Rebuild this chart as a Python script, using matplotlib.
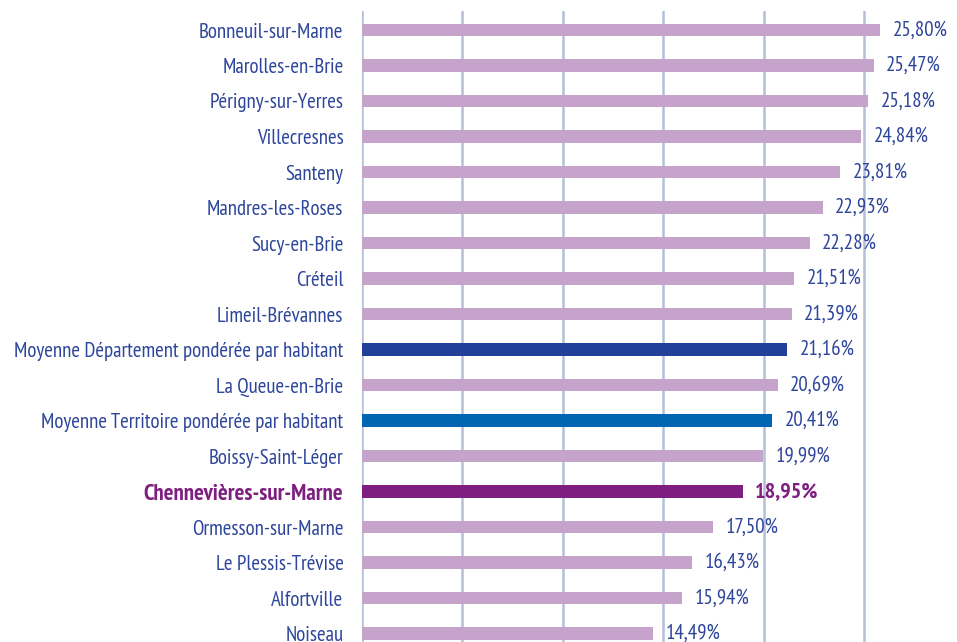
import matplotlib
matplotlib.use("Agg")
import matplotlib.pyplot as plt

categories = [
    "Bonneuil-sur-Marne", "Marolles-en-Brie", "Périgny-sur-Yerres", "Villecresnes",
    "Santeny", "Mandres-les-Roses", "Sucy-en-Brie", "Créteil", "Limeil-Brévannes",
    "Moyenne Département pondérée par habitant", "La Queue-en-Brie",
    "Moyenne Territoire pondérée par habitant", "Boissy-Saint-Léger",
    "Chennevières-sur-Marne", "Ormesson-sur-Marne", "Le Plessis-Trévise",
    "Alfortville", "Noiseau",
]
values = [25.80, 25.47, 25.18, 24.84, 23.81, 22.93, 22.28, 21.51, 21.39,
          21.16, 20.69, 20.41, 19.99, 18.95, 17.50, 16.43, 15.94, 14.49]
grid_ticks = [0, 5, 10, 15, 20, 25]

LIGHT = "#C6A3CA"
DEPT = "#22409A"
TERR = "#0066B3"
CHEN = "#7E1E80"
TXT = "#2D459B"
GRID = "#B4BED8"

special = {
    "Moyenne Département pondérée par habitant": DEPT,
    "Moyenne Territoire pondérée par habitant": TERR,
    "Chennevières-sur-Marne": CHEN,
}

plt.rcParams["font.family"] = ["PT Sans Narrow", "DejaVu Sans"]

W, H = 957, 642
fig = plt.figure(figsize=(W / 100, H / 100), dpi=100)
x0 = 361.5
ax = fig.add_axes([x0 / W, 0.0, 1 - x0 / W, 1 - 11 / H])

pxper = 20.11
xmax = (W - x0) / pxper
ax.set_xlim(0, xmax)
row0, step = 30, 35.5
ax.set_ylim((H - row0) / step, -(row0 - 11) / step)

ypos = list(range(len(categories)))
colors = [special.get(c, LIGHT) for c in categories]
ax.barh(ypos, values, height=0.34, color=colors, zorder=3)

for v in grid_ticks:
    ax.axvline(v, color=GRID, lw=1.8, zorder=1)

FS = 15
for y, v, c in zip(ypos, values, categories):
    bold = c == "Chennevières-sur-Marne"
    ax.annotate(f"{v:.2f}%".replace(".", ","), (v, y), xytext=(9, 0),
                textcoords="offset points", va="center", ha="left",
                fontsize=FS + 1 if bold else FS, color=CHEN if bold else TXT,
                fontweight="bold" if bold else "normal", zorder=4)

ax.set_yticks(ypos)
ax.set_yticklabels(categories, fontsize=FS)
for lab, c in zip(ax.get_yticklabels(), categories):
    if c == "Chennevières-sur-Marne":
        lab.set_color(CHEN)
        lab.set_fontweight("bold")
        lab.set_fontsize(FS + 1.5)
    else:
        lab.set_color(TXT)
ax.tick_params(axis="y", length=0, pad=13)
ax.set_xticks([])
for s in ax.spines.values():
    s.set_visible(False)

fig.savefig("out.png", dpi=100)
